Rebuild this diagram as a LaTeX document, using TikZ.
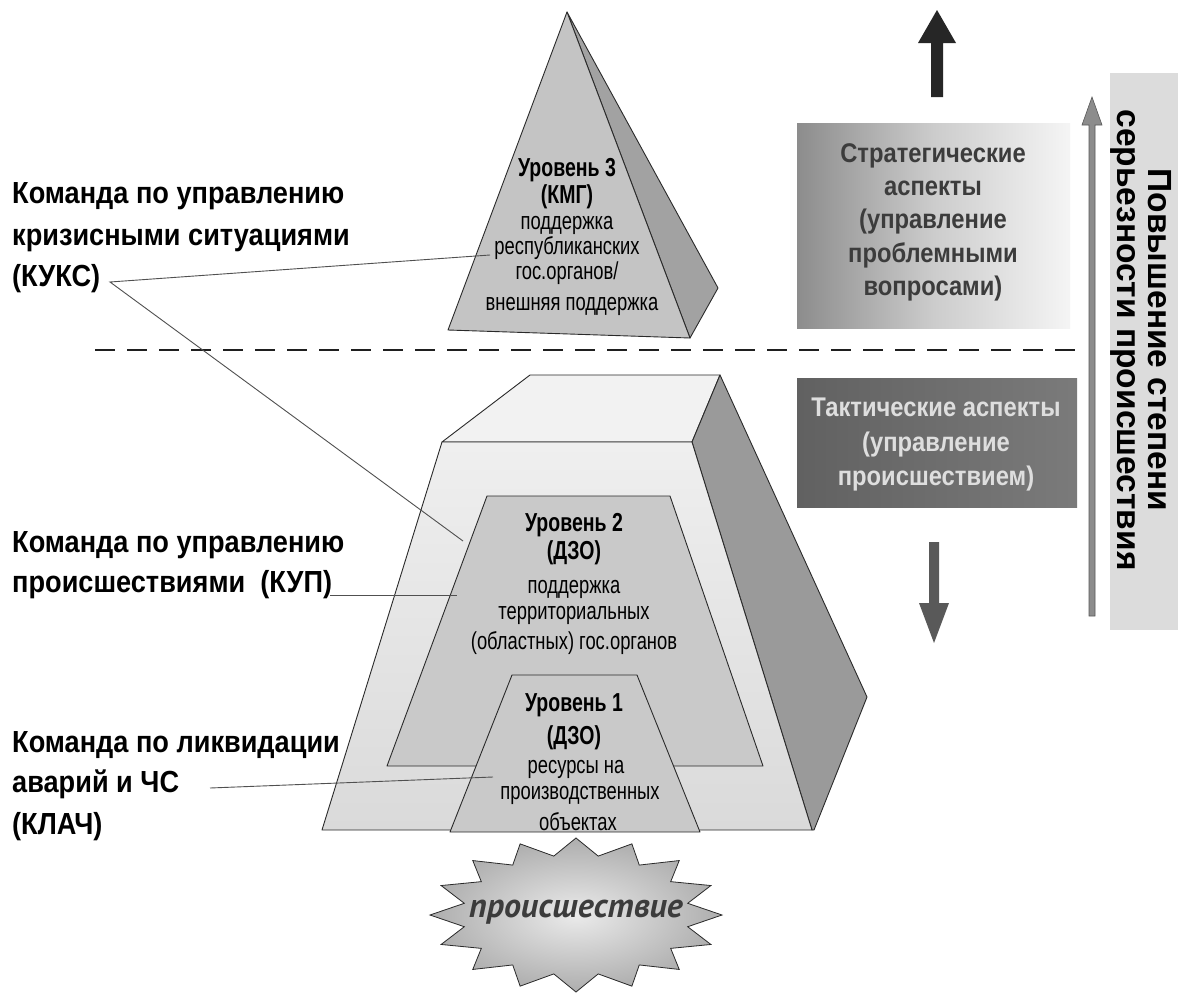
\documentclass[tikz,border=0pt]{standalone}
\usepackage{fontspec}
\setmainfont{Liberation Sans}
\newfontfamily\narrowfont[FakeStretch=0.75]{Liberation Sans}
\newfontfamily\labelfont[FakeStretch=0.89]{Liberation Sans}
\newfontfamily\aspectfont[FakeStretch=0.88]{Liberation Sans}
\newfontfamily\ptfont{PT Sans}
\definecolor{outline}{HTML}{2A2A2A}
\definecolor{pyrfront}{HTML}{C4C4C4}
\definecolor{pyrside}{HTML}{A2A2A2}
\definecolor{boxfront}{HTML}{EFEFEF}
\definecolor{boxfrontb}{HTML}{DADADA}
\definecolor{boxtop}{HTML}{F2F2F2}
\definecolor{boxside}{HTML}{9A9A9A}
\definecolor{lvlfill}{HTML}{C9C9C9}
\definecolor{stripfill}{HTML}{DCDCDC}
\definecolor{strattext}{HTML}{3C3C3C}
\definecolor{tacttext}{HTML}{DEDEDE}
\definecolor{connc}{HTML}{505050}
\begin{document}
\begin{tikzpicture}[x=1pt,y=-1pt,
  face/.style={draw=outline, line width=0.9pt, line join=round},
  lbl/.style={font=\labelfont\bfseries\fontsize{30.5}{32}\selectfont, anchor=base west, inner sep=0pt},
  lvlhead/.style={font=\narrowfont\bfseries\fontsize{26}{28}\selectfont, anchor=base, inner sep=0pt},
  lvltxt/.style={font=\narrowfont\fontsize{24.5}{26}\selectfont, anchor=base, inner sep=0pt},
  aspect/.style={font=\aspectfont\bfseries\fontsize{27}{29}\selectfont, anchor=base, inner sep=0pt},
  conn/.style={draw=connc, line width=0.9pt},
  dashline/.style={draw=black!88, line width=2.8pt, dash pattern=on 20pt off 12pt}
]
\useasboundingbox (0,0) rectangle (1181,996);
\fill[white] (0,0) rectangle (1181,996);

% ---- right side: aspects boxes, arrows, strip
\shade[left color=black!45, right color=white!96!black, middle color=black!20] (797,123) rectangle (1070,328);
\node[aspect, text=strattext] (s1) at (933,162) {Стратегические};
\node[aspect, text=strattext] (s2) at (933,195) {аспекты};
\node[aspect, text=strattext] (s3) at (933,228) {(управление};
\node[aspect, text=strattext] (s4) at (933,262) {проблемными};
\node[aspect, text=strattext] (s5) at (933,295) {вопросами)};

\shade[left color=black!62, right color=black!52] (797,378) rectangle (1077,507);
\node[aspect, text=tacttext] (t1) at (936,416) {Тактические аспекты};
\node[aspect, text=tacttext] (t2) at (936,451) {(управление};
\node[aspect, text=tacttext] (t3) at (936,485) {происшествием)};

\fill[black!85] (931,97) -- (931,43) -- (918,43) -- (937,10) -- (956,43) -- (943,43) -- (943,97) -- cycle;
\fill[black!65] (929,542) -- (939,542) -- (939,603) -- (949,603) -- (934,643) -- (919,603) -- (929,603) -- cycle;

\fill[stripfill] (1110,73) rectangle (1178,630);
\filldraw[fill=black!45, draw=black!65, line width=0.6pt] (1089,616) -- (1089,125) -- (1082,125) -- (1092,97) -- (1102,125) -- (1095,125) -- (1095,616) -- cycle;
\node[font=\bfseries\fontsize{33.5}{31}\selectfont, align=center, rotate=-90, inner sep=0pt] (sev) at (1141,340) {Повышение степени\\серьезности происшествия};

% ---- dashed separator
\draw[dashline] (95,350) -- (1075,350);

% ---- level 3 pyramid
\filldraw[face, fill=pyrside] (567,12) -- (718,288) -- (690,338) -- cycle;
\filldraw[face, fill=pyrfront] (567,12) -- (690,338) -- (448,330) -- cycle;
\node[lvlhead] (l3a) at (567,176) {Уровень 3};
\node[lvlhead] (l3b) at (567,203) {(КМГ)};
\node[lvltxt] (l3c) at (567,229) {поддержка};
\node[lvltxt] (l3d) at (567,254) {республиканских};
\node[lvltxt] (l3e) at (567,279) {гос.органов/};
\node[lvltxt] (l3f) at (572,310) {внешняя поддержка};

% ---- big box
\filldraw[face, fill=boxtop] (442,442) -- (530,375) -- (720,375) -- (692,442) -- cycle;
\filldraw[face, fill=boxside] (692,442) -- (720,375) -- (867,697) -- (814,830) -- (812,830) -- cycle;
\shade[top color=boxfront, bottom color=boxfrontb] (322,830) -- (442,442) -- (692,442) -- (812,830) -- cycle;
\draw[face] (322,830) -- (442,442) -- (692,442) -- (812,830) -- cycle;

% level 2
\filldraw[face, fill=lvlfill] (387,766) -- (487,496) -- (670,496) -- (763,766) -- cycle;
% level 1
\filldraw[face, fill=lvlfill] (450,832) -- (512,675) -- (637,675) -- (700,832) -- cycle;

\node[lvlhead] (l2a) at (574,531) {Уровень 2};
\node[lvlhead] (l2b) at (574,559) {(ДЗО)};
\node[lvltxt] (l2c) at (574,593) {поддержка};
\node[lvltxt] (l2d) at (574,619) {территориальных};
\node[lvltxt] (l2e) at (574,649) {(областных) гос.органов};

\node[lvlhead] (l1a) at (574,711) {Уровень 1};
\node[lvlhead] (l1b) at (574,744) {(ДЗО)};
\node[lvltxt] (l1c) at (576,773) {ресурсы на};
\node[lvltxt] (l1d) at (580,799) {производственных};
\node[lvltxt] (l1e) at (578,830) {объектах};

% ---- incident star
\shade[inner color=black!8, outer color=black!32]
  plot[samples at={0,...,31}] ({576+146*(mod(\x,2)==0 ? 1 : 0.78)*cos(90+\x*11.25)}, {915+77*(mod(\x,2)==0 ? 1 : 0.78)*sin(90+\x*11.25)}) -- cycle;
\draw[outline, line width=0.8pt, line join=miter]
  plot[samples at={0,...,31}] ({576+146*(mod(\x,2)==0 ? 1 : 0.78)*cos(90+\x*11.25)}, {915+77*(mod(\x,2)==0 ? 1 : 0.78)*sin(90+\x*11.25)}) -- cycle;
\node[font=\ptfont\bfseries\itshape\fontsize{34}{36}\selectfont, text=strattext, inner sep=0pt] (inc) at (576,912) {происшествие};

% ---- left labels
\node[lbl] (ka) at (12,203) {Команда по управлению};
\node[lbl] (kb) at (12,245) {кризисными ситуациями};
\node[lbl] (kc) at (12,286) {(КУКС)};
\node[lbl] (pa) at (12,552) {Команда по управлению};
\node[lbl] (pb) at (12,592) {происшествиями~ (КУП)};
\node[lbl] (la) at (12,752) {Команда по ликвидации};
\node[lbl] (lb) at (12,792) {аварий и ЧС};
\node[lbl] (lc) at (12,834) {(КЛАЧ)};

% ---- connectors
\coordinate (kukspt) at (110,282);
\coordinate (end3) at (490,255);
\coordinate (end2) at (463,541);
\coordinate (kuppt) at (330,595);
\coordinate (endkup) at (457,595);
\coordinate (klachpt) at (210,788);
\coordinate (end1) at (493,777);
\draw[conn] (end3) -- (kukspt) -- (end2);
\draw[conn] (kuppt) -- (endkup);
\draw[conn] (klachpt) -- (end1);
\end{tikzpicture}
\end{document}
